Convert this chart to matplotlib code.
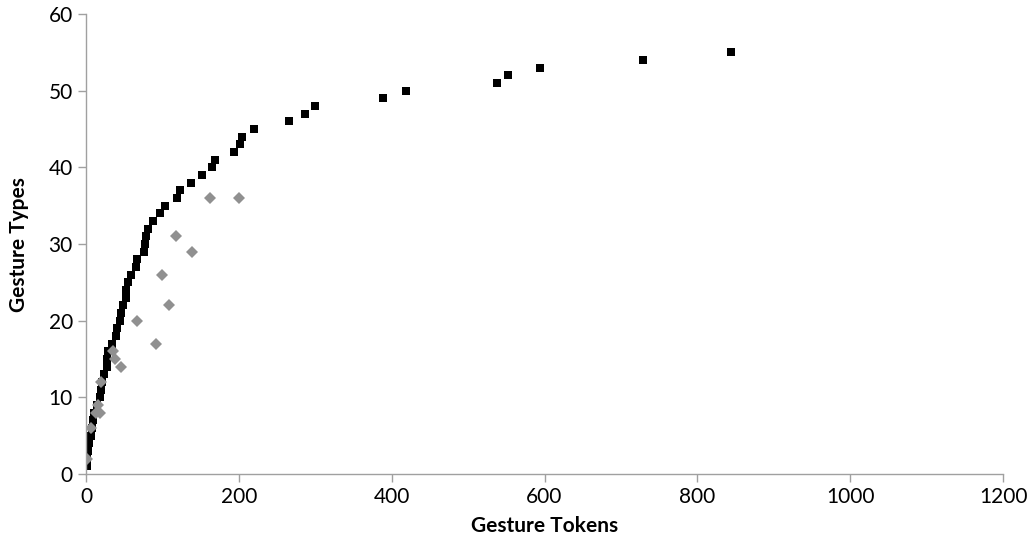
import matplotlib
matplotlib.use("Agg")
import matplotlib.pyplot as plt

# black series: cumulative gesture types vs tokens
tokens_a = [1, 2, 3, 4, 6, 8, 9, 10, 15, 18, 20, 21, 24, 27, 27, 29, 34, 39, 41, 44,
            46, 48, 52, 52, 55, 59, 65, 67, 76, 77, 78, 81, 88, 97, 103, 119, 123, 137,
            152, 165, 169, 194, 202, 204, 220, 266, 286, 300, 389, 419, 538, 552, 594,
            729, 844]
types_a = list(range(1, 56))

# grey series
tokens_b = [2, 7, 13, 18, 16, 20, 46, 38, 35, 92, 67, 108, 99, 139, 118, 162, 200]
types_b = [2, 6, 8, 8, 9, 12, 14, 15, 16, 17, 20, 22, 26, 29, 31, 36, 36]

x_ticks = [0, 200, 400, 600, 800, 1000, 1200]
y_ticks = [0, 10, 20, 30, 40, 50, 60]

plt.rcParams["font.family"] = ["Lato", "DejaVu Sans"]

fig = plt.figure(figsize=(10.32, 5.43), dpi=100)
ax = fig.add_axes([0.0833, 0.127, 0.8887, 0.847])

ax.plot(tokens_a, types_a, "s", color="black", markersize=6, markeredgewidth=0)
ax.plot(tokens_b, types_b, "D", color="#909090", markersize=6.5, markeredgewidth=0)

ax.set_xlim(0, 1200)
ax.set_ylim(0, 60)
ax.set_xticks(x_ticks)
ax.set_yticks(y_ticks)
ax.tick_params(labelsize=15, color="#a0a0a0", length=6, width=1, direction="out")

for side in ["top", "right"]:
    ax.spines[side].set_visible(False)
for side in ["left", "bottom"]:
    ax.spines[side].set_color("#a0a0a0")
    ax.spines[side].set_linewidth(1)

ax.set_xlabel("Gesture Tokens", fontsize=15, fontweight="bold", labelpad=6)
ax.set_ylabel("Gesture Types", fontsize=15, fontweight="bold", labelpad=14)

fig.savefig("out.png", dpi=100)
